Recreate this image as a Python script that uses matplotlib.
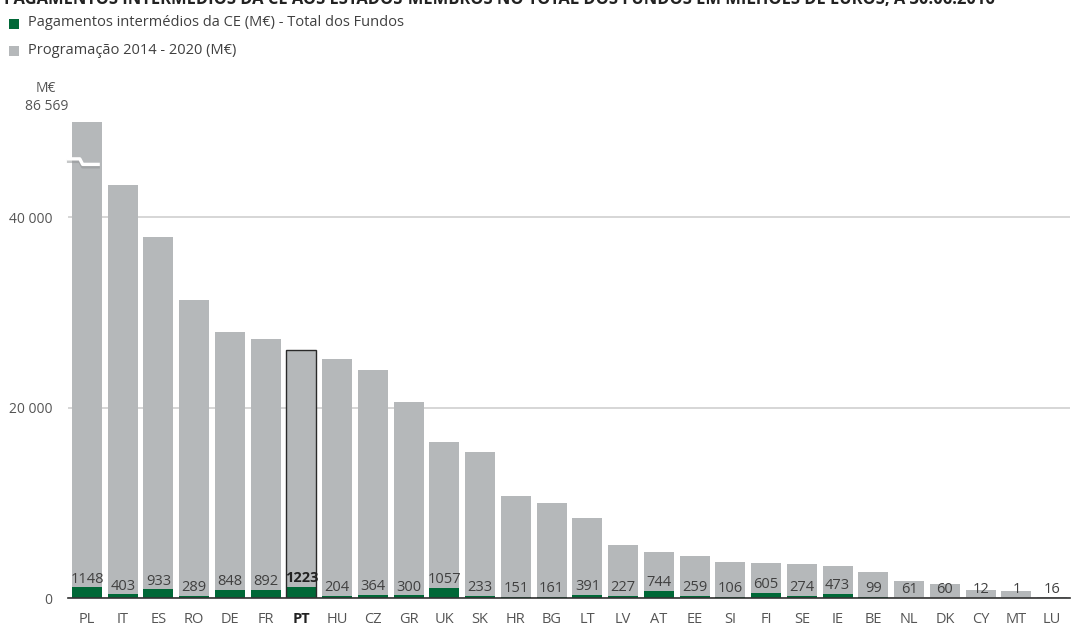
import matplotlib
matplotlib.use("Agg")
import matplotlib.pyplot as plt
from matplotlib.patches import Rectangle

plt.rcParams['font.family'] = ['Open Sans', 'DejaVu Sans']

countries = ["PL", "IT", "ES", "RO", "DE", "FR", "PT", "HU", "CZ", "GR", "UK", "SK", "HR", "BG",
             "LT", "LV", "AT", "EE", "SI", "FI", "SE", "IE", "BE", "NL", "DK", "CY", "MT", "LU"]
# Programação 2014 - 2020 (M€)
programacao = [86569, 43340, 37940, 31270, 27970, 27210, 26020, 25080, 23990, 20600, 16400, 15380,
               10770, 9970, 8390, 5620, 4890, 4440, 3840, 3740, 3630, 3360, 2730, 1850, 1500,
               840, 770, 170]
# Pagamentos intermédios da CE (M€) - Total dos Fundos
pagamentos = [1148, 403, 933, 289, 848, 892, 1223, 204, 364, 300, 1057, 233, 151, 161, 391, 227,
              744, 259, 106, 605, 274, 473, 99, 61, 60, 12, 1, 16]
y_ticks = [0, 20000, 40000]
y_tick_labels = ["0", "20 000", "40 000"]
pl_label = "86 569"
highlight = "PT"

GRAY = "#b5b8ba"
GREEN = "#006837"
TXT = "#404040"

W, H = 1072, 628
fig = plt.figure(figsize=(W / 100, H / 100), dpi=100)
ax = fig.add_axes([68 / W, 1 - 598.3 / H, (1070 - 68) / W, (598.3 - 122) / H])

n = len(countries)
x = list(range(n))
BW = 0.84
ax.bar(x, programacao, width=BW, color=GRAY, zorder=2)
ax.bar(x, pagamentos, width=BW, color=GREEN, zorder=3)
hi = countries.index(highlight)
ax.bar([hi], [programacao[hi]], width=BW, facecolor="none", edgecolor="#2a2a2a",
       linewidth=1.0, zorder=4)

for i, (c, p) in enumerate(zip(countries, pagamentos)):
    ax.annotate(f"{p}", (i, p), xytext=(0, 3.5), textcoords="offset points",
                ha="center", va="baseline", fontsize=10.5, color=TXT if c != highlight else "#222222",
                fontweight="bold" if c == highlight else "normal", zorder=5)

ax.set_xlim(-0.53, n - 1 + 0.5)
ax.set_ylim(0, 50000)
ax.set_yticks(y_ticks)
ax.set_yticklabels(y_tick_labels)
ax.set_xticks(x)
ax.set_xticklabels(countries)
for lbl, c in zip(ax.get_xticklabels(), countries):
    if c == highlight:
        lbl.set_fontweight("bold")
        lbl.set_color("#222222")
    else:
        lbl.set_color("#555555")
ax.tick_params(axis="x", length=0, pad=10, labelsize=10.5)
ax.tick_params(axis="y", length=0, pad=11, labelsize=10, labelcolor="#555555")
ax.yaxis.grid(True, color="#d0d0d0", linewidth=1.2, zorder=0)
ax.set_axisbelow(True)
for s in ["top", "right", "left"]:
    ax.spines[s].set_visible(False)
ax.spines["bottom"].set_color("#333333")
ax.spines["bottom"].set_linewidth(1.2)
ax.spines["bottom"].set_zorder(6)

# axis break marker on the PL bar
bx = [-0.56, -0.2, -0.12, 0.36]
by = [46130, 46130, 45550, 45550]
ax.plot(bx, [v - 260 for v in by], color="#8f9294", lw=2.4, alpha=0.5, zorder=6,
        clip_on=False, solid_capstyle="butt")
ax.plot(bx, by, color="white", lw=2.4, zorder=7, clip_on=False, solid_capstyle="butt")

# labels above axis
fig.text(36 / W, 1 - 88 / H, "M€", fontsize=10, color="#555555", ha="left", va="center")
fig.text(25 / W, 1 - 106 / H, pl_label, fontsize=10, color="#555555", ha="left", va="center")

# legend
fig.patches.append(Rectangle((9 / W, 1 - 28.5 / H), 10 / W, 10 / H, transform=fig.transFigure,
                             facecolor=GREEN, edgecolor="none"))
fig.patches.append(Rectangle((9 / W, 1 - 55.5 / H), 10 / W, 10 / H, transform=fig.transFigure,
                             facecolor=GRAY, edgecolor="none"))
fig.text(28 / W, 1 - 23 / H, "Pagamentos intermédios da CE (M€) - Total dos Fundos",
         fontsize=10.5, color=TXT, ha="left", va="center")
fig.text(28 / W, 1 - 50 / H, "Programação 2014 - 2020 (M€)",
         fontsize=10.5, color=TXT, ha="left", va="center")

# cropped title (cut off at the top edge, as in the reference)
fig.text(4 / W, 1 - 4 / H,
         "PAGAMENTOS INTERMÉDIOS DA CE AOS ESTADOS-MEMBROS NO TOTAL DOS FUNDOS EM MILHÕES DE EUROS, A 30.06.2016",
         fontsize=11.9, fontweight="bold", color="#222222", ha="left", va="baseline")

fig.savefig("out.png", dpi=100)
